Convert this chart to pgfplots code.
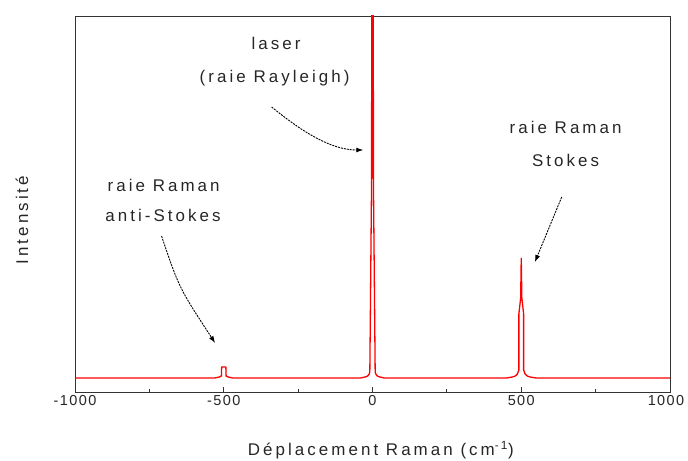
\documentclass[border=0pt]{standalone}
\usepackage{fontspec}
\setmainfont{Liberation Sans}[LetterSpace=18]
\newfontfamily\tickfont{Liberation Sans}[LetterSpace=10]
\usepackage{pgfplots}
\pgfplotsset{compat=1.18}
\usetikzlibrary{arrows.meta}

\begin{document}
\begin{tikzpicture}[x=1bp,y=1bp]
% cadre de l'image : axe de 595 x 376 avec ses marges
\useasboundingbox (-75bp,-69bp) rectangle (613bp,392bp);
\begin{axis}[
    at={(0,0)}, anchor=south west,
    scale only axis,
    width=595bp, height=376bp,
    xmin=-1000, xmax=1000,
    ymin=-14, ymax=362,
    axis line style={black!80, line width=0.9bp},
    xtick={-1000,-500,0,500,1000},
    xticklabels={-1000,-500,0,500,1000\hspace*{8bp}},
    minor xtick={-750,-250,250,750},
    xtick pos=bottom,
    ytick=\empty,
    major tick length=5bp, minor tick length=3bp,
    tick style={black!80, line width=0.8bp},
    tick align=inside,
    xticklabel style={font=\tickfont\fontsize{14.5}{17}\selectfont, text=black!85},
    xlabel={Déplacement Raman (cm\textsuperscript{-1})},
    ylabel={Intensité},
    label style={font=\fontsize{17}{20}\selectfont, text=black!85},
    xlabel style={at={(axis description cs:0.514,0)}, anchor=center, yshift=-58bp},
    ylabel style={at={(axis description cs:0,0.457)}, anchor=center, yshift=53bp},
]
% spectre : ligne de base + raie anti-Stokes, Rayleigh, Stokes
\addplot[red, line width=1.3bp] coordinates {
    (-1000,0) (-530,0) (-515,1) (-508,2) (-507,11) (-493,11) (-492,2) (-485,1) (-470,0)
    (-40,0) (-25,1) (-16,2) (-11,4) (-9,6) (-8,38) (-3,200) (-2.3,600) (0,3000)
    (2.3,600) (3,200) (8,38) (9,6) (11,4) (16,2) (25,1) (40,0)
    (450,0) (470,1) (480,2) (487,4) (492,8) (492,64) (498,80) (500,120)
    (502,80) (508,64) (508,8) (513,4) (520,2) (530,1) (550,0) (1000,0)
};
% annotations
\begin{scope}[font=\fontsize{17}{20}\selectfont, text=black!85]
\node at (axis cs:-324,335) {laser};
\node at (axis cs:-329,300) {(raie Rayleigh)};
\node at (axis cs:-702,193) {raie Raman};
\node at (axis cs:-704,163) {anti-Stokes};
\node at (axis cs:649,251) {raie Raman};
\node at (axis cs:649,218) {Stokes};
\end{scope}
\begin{scope}[black, line width=0.9bp, dash pattern=on 2bp off 1bp,
              -{Latex[length=7bp,width=5bp]}]
\draw (axis cs:-339,271) .. controls (axis cs:-244,248) and (axis cs:-143,228) .. (axis cs:-31,228);
\draw (axis cs:-709,142) .. controls (axis cs:-650,90) .. (axis cs:-529,35);
\draw (axis cs:636,181) -- (axis cs:546,116);
\end{scope}
\end{axis}
\end{tikzpicture}
\end{document}
